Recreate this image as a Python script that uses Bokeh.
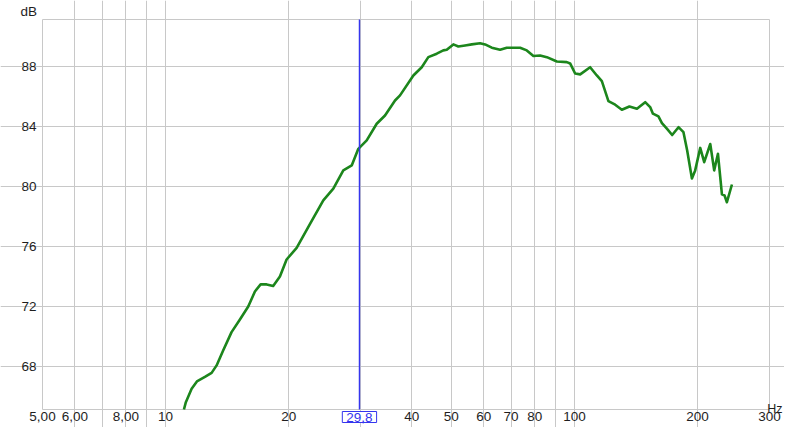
import math
from bokeh.plotting import figure
from bokeh.models import FixedTicker, Label, ColumnDataSource
from bokeh.embed import file_html
from bokeh.resources import INLINE

# ---- data ----
freq_hz = [11.09, 11.21, 11.58, 11.93, 12.48, 12.96, 13.33, 13.83, 14.50, 15.20,
           15.93, 16.54, 17.08, 17.67, 18.33, 19.04, 19.77, 20.92, 22.56, 24.31,
           25.72, 27.21, 28.53, 29.61, 31.04, 32.84, 34.41, 36.41, 37.45, 40.37,
           42.32, 43.92, 46.05, 47.79, 48.72, 50.57, 52.01, 54.01, 56.09, 58.78,
           60.46, 62.79, 65.79, 68.32, 73.65, 76.48, 79.38, 82.44, 85.61, 90.57,
           95.81, 97.61, 100.4, 103.3, 109.25, 113.45, 116.7, 121.1, 125.8, 130.6,
           136.3, 142.2, 148.95, 153.2, 155.6, 160.5, 163.7, 168.3, 173.4, 179.7,
           184.8, 188.7, 193.8, 197.4, 203.1, 207.7, 214.9, 219.7, 224.4, 229.5,
           232.9, 236.0, 242.8]
spl_db = [65.11, 65.6, 66.49, 66.98, 67.28, 67.55, 68.05, 69.05, 70.27, 71.11,
          71.98, 72.98, 73.45, 73.45, 73.35, 73.98, 75.11, 75.88, 77.49, 79.05,
          79.83, 81.05, 81.38, 82.49, 83.05, 84.16, 84.71, 85.71, 86.05, 87.38,
          87.93, 88.6, 88.83, 89.05, 89.09, 89.45, 89.31, 89.38, 89.45, 89.53,
          89.45, 89.23, 89.09, 89.23, 89.23, 89.05, 88.68, 88.71, 88.6, 88.31,
          88.27, 88.18, 87.51, 87.45, 87.93, 87.38, 87.0, 85.67, 85.43, 85.09,
          85.31, 85.16, 85.6, 85.27, 84.83, 84.65, 84.2, 83.83, 83.41, 83.93,
          83.6, 82.38, 80.51, 81.05, 82.55, 81.6, 82.81, 81.05, 82.16, 79.45,
          79.38, 78.93, 80.11]

x_tick_values = [5, 6, 8, 10, 20, 40, 50, 60, 70, 80, 100, 200, 300]
x_tick_labels = ["5,00", "6,00", "8,00", "10", "20", "40", "50", "60", "70", "80", "100", "200", "300"]
x_grid_values = [6, 7, 8, 9, 10, 20, 30, 40, 50, 60, 70, 80, 90, 100, 200]
y_tick_values = [68, 72, 76, 80, 84, 88]
cursor_hz = 29.8
cursor_label = "29,8"
x_min, x_max = 5, 300          # plot area frequency limits
y_min, y_max = 65.11, 91.11    # plot area level limits

# ---- layout geometry (pixels) ----
W, H = 784, 427
PL, PR = 42, 769               # plot area left / right
PT, PB = 19, 409               # plot area top / bottom

dec_per_px = (math.log10(x_max) - math.log10(x_min)) / (PR - PL)
xr = (10 ** (math.log10(x_min) - PL * dec_per_px), 10 ** (math.log10(x_max) + (W - PR) * dec_per_px))
db_per_px = (y_max - y_min) / (PB - PT)
yr = (y_min - (H - PB) * db_per_px, y_max + PT * db_per_px)

FONT = "Liberation Sans"
FSIZE = "13.5px"
TXT = "#1e1e1e"
GRID = "#c8c8c8"
BLUE = "#3535ee"
GREEN = "#1c861c"

p = figure(width=W, height=H, x_axis_type="log", x_range=xr, y_range=yr,
           min_border=0, output_backend="svg", toolbar_location=None)
p.background_fill_color = "white"
p.border_fill_color = "white"
p.outline_line_color = None

# axes drawn at the plot-area edges
p.xaxis.fixed_location = y_min
p.yaxis.fixed_location = x_min
p.xaxis.ticker = FixedTicker(ticks=x_tick_values)
p.xaxis.major_label_overrides = {v: l for v, l in zip(x_tick_values, x_tick_labels)}
p.yaxis.ticker = FixedTicker(ticks=y_tick_values)
for ax in (p.xaxis, p.yaxis):
    ax.axis_line_color = None
    ax.major_tick_line_color = None
    ax.minor_tick_line_color = None
    ax.major_tick_out = 0
    ax.major_tick_in = 0
    ax.minor_tick_out = 0
    ax.minor_tick_in = 0
    ax.major_label_text_font = FONT
    ax.major_label_text_font_size = FSIZE
    ax.major_label_text_color = TXT
p.xaxis.major_label_standoff = 2
p.yaxis.major_label_standoff = 6

# grids limited to the plot area
p.xgrid.ticker = FixedTicker(ticks=x_grid_values)
p.ygrid.ticker = FixedTicker(ticks=y_tick_values)
p.xgrid.bounds = (y_min, y_max)
p.ygrid.bounds = (x_min, x_max)
p.xgrid.grid_line_color = GRID
p.ygrid.grid_line_color = GRID

# plot-area border
p.quad(left=[x_min], right=[x_max], bottom=[y_min], top=[y_max],
       fill_color=None, line_color=GRID, line_width=1)

# curve
src = ColumnDataSource(dict(f=freq_hz, db=spl_db))
p.line("f", "db", source=src, line_color=GREEN, line_width=2.6, line_join="round")

# cursor
p.segment(x0=[cursor_hz], y0=[y_min], x1=[cursor_hz], y1=[y_max], line_color=BLUE, line_width=1.4)
p.add_layout(Label(x=cursor_hz, y=y_min, y_offset=-2,
                   text=cursor_label, text_align="center", text_baseline="top",
                   text_font=FONT, text_font_size=FSIZE, text_color=BLUE,
                   background_fill_color="white", border_line_color=BLUE, border_line_width=1,
                   padding=dict(left=4, right=4, top=1, bottom=1)))

# unit labels
p.add_layout(Label(x=x_min, y=y_max, x_offset=-22, y_offset=8,
                   text="dB", text_align="left", text_baseline="alphabetic",
                   text_font=FONT, text_font_size=FSIZE, text_color=TXT))
p.add_layout(Label(x=x_max, y=y_min, x_offset=13, y_offset=1,
                   text="Hz", text_align="right", text_baseline="alphabetic",
                   text_font=FONT, text_font_size="12.5px", text_color=TXT))

open("out.html", "w").write(file_html(p, INLINE))
